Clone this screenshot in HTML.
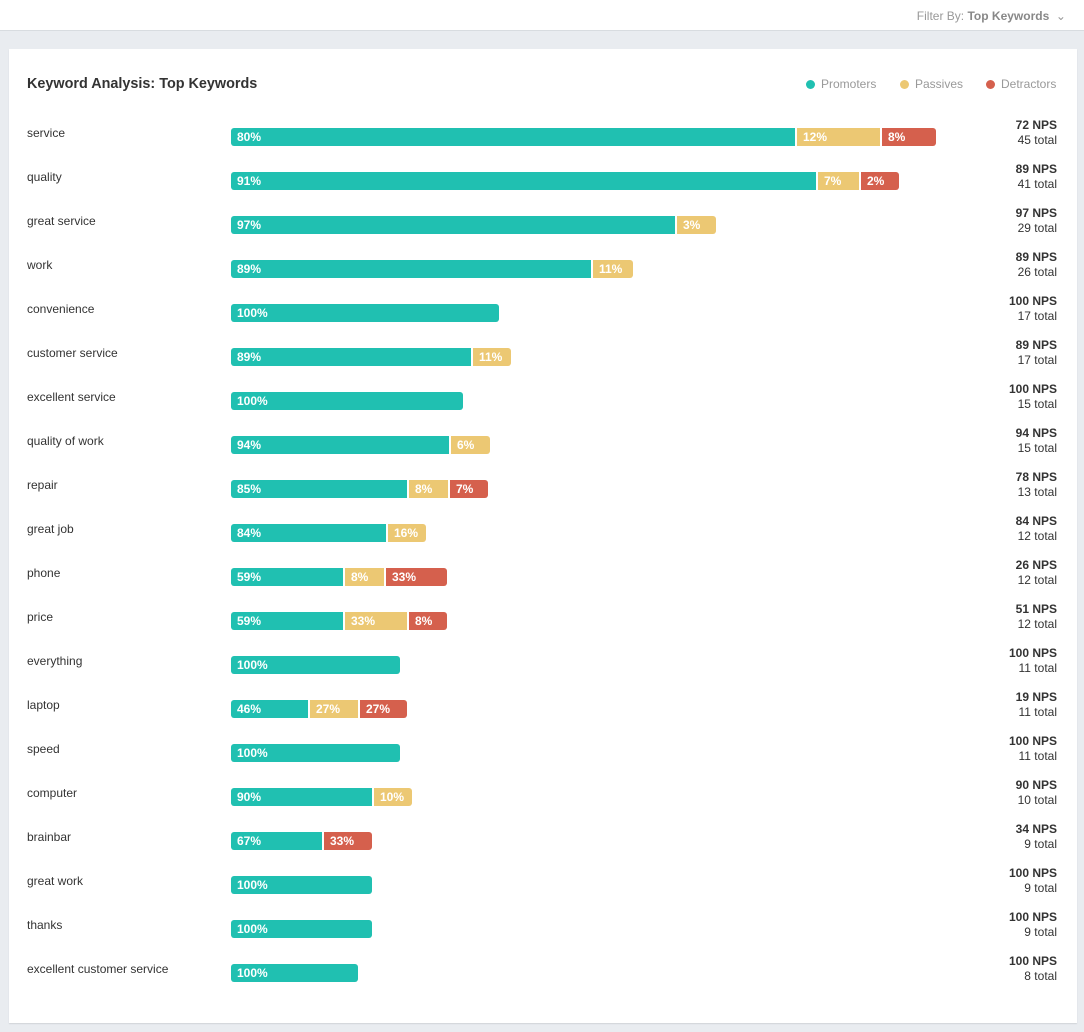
<!DOCTYPE html>
<html><head><meta charset="utf-8"><style>
*{margin:0;padding:0;box-sizing:border-box}
body{width:1084px;height:1032px;background:#e9ecf0;font-family:"Liberation Sans",Arial,sans-serif;position:relative;overflow:hidden}
.top{position:absolute;left:0;top:0;width:1084px;height:31px;background:#fff;border-bottom:1px solid #d8dce0}
.filter{position:absolute;right:18px;top:9px;font-size:12px;color:#999}
.filter b{color:#888}
.card{position:absolute;left:9px;top:49px;width:1068px;height:974px;background:#fff;box-shadow:0 1px 1px #d0d4d8}
.title{position:absolute;left:27px;top:76px;font-size:14.4px;font-weight:bold;color:#333}
.leg{position:absolute;top:77px;font-size:12px;color:#999}
.leg i{display:inline-block;width:9px;height:9px;border-radius:50%;margin-right:6px;vertical-align:-1px}
.lab{position:absolute;left:27px;font-size:12px;color:#333}
.seg{position:absolute;height:18px;color:#fff;font-size:12px;font-weight:bold;line-height:18px;padding-left:6px;white-space:nowrap}
.t{background:#20c0b1}.y{background:#ecc873}.r{background:#d5604d}
.nps{position:absolute;right:27px;text-align:right;font-size:12px;color:#333;line-height:15px}
</style></head><body>
<div class="top"><div class="filter">Filter By: <b>Top Keywords</b> &nbsp;⌄</div></div>
<div class="card"></div>
<div class="title">Keyword Analysis: Top Keywords</div>
<div class="leg" style="left:806px"><i style="background:#20c0b1"></i>Promoters</div>
<div class="leg" style="left:900px"><i style="background:#ecc873"></i>Passives</div>
<div class="leg" style="left:986px"><i style="background:#d5604d"></i>Detractors</div>
<div id="rows"></div>
<script>
var d=[
["service",[[795,"80%"],[880,"12%"],[936,"8%"]],72,45],
["quality",[[816,"91%"],[859,"7%"],[899,"2%"]],89,41],
["great service",[[675,"97%"],[716,"3%"]],97,29],
["work",[[591,"89%"],[633,"11%"]],89,26],
["convenience",[[499,"100%"]],100,17],
["customer service",[[471,"89%"],[511,"11%"]],89,17],
["excellent service",[[463,"100%"]],100,15],
["quality of work",[[449,"94%"],[490,"6%"]],94,15],
["repair",[[407,"85%"],[448,"8%"],[488,"7%"]],78,13],
["great job",[[386,"84%"],[426,"16%"]],84,12],
["phone",[[343,"59%"],[384,"8%"],[447,"33%"]],26,12],
["price",[[343,"59%"],[407,"33%"],[447,"8%"]],51,12],
["everything",[[400,"100%"]],100,11],
["laptop",[[308,"46%"],[358,"27%"],[407,"27%"]],19,11],
["speed",[[400,"100%"]],100,11],
["computer",[[372,"90%"],[412,"10%"]],90,10],
["brainbar",[[322,"67%"],[372,"33%","r"]],34,9],
["great work",[[372,"100%"]],100,9],
["thanks",[[372,"100%"]],100,9],
["excellent customer service",[[358,"100%"]],100,8]];
var h="";
d.forEach(function(r,i){
 var y=128+44*i;
 h+='<div class="lab" style="top:'+(y-2)+'px">'+r[0]+'</div>';
 var x=231,cl=["t","y","r"];
 r[1].forEach(function(s,j){
  var c=s[2]||cl[j];var n=r[1].length;
  var br="border-radius:"+(j==0?"3px ":"0 ")+(j==n-1?"3px 3px ":"0 0 ")+(j==0?"3px":"0");
  h+='<div class="seg '+c+'" style="left:'+x+'px;top:'+y+'px;width:'+(s[0]-x)+'px;'+br+'">'+s[1]+'</div>';
  x=s[0]+2;
 });
 h+='<div class="nps" style="top:'+(y-10)+'px"><b>'+r[2]+' NPS</b><br>'+r[3]+' total</div>';
});
document.getElementById("rows").innerHTML=h;
</script>
</body></html>
